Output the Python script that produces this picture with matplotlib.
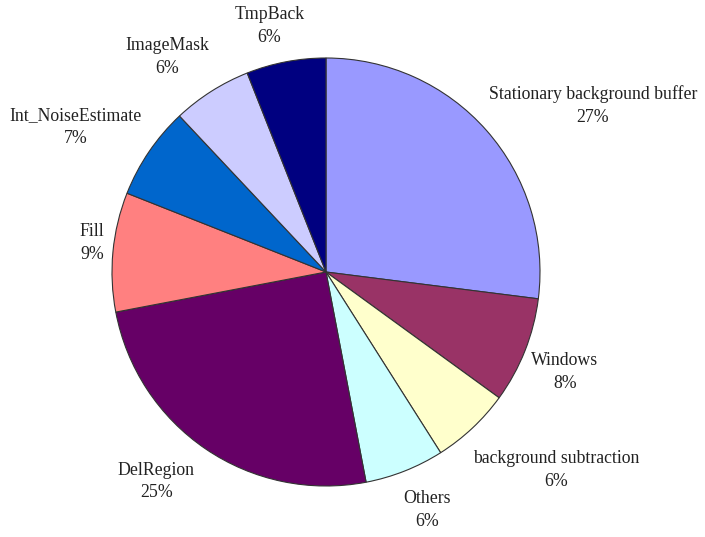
import matplotlib.pyplot as plt
import numpy as np

# share of processing time per stage, clockwise from 12 o'clock
stages = [
    "Stationary background buffer",
    "Windows",
    "background subtraction",
    "Others",
    "DelRegion",
    "Fill",
    "Int_NoiseEstimate",
    "ImageMask",
    "TmpBack",
]
percents = [27, 8, 6, 6, 25, 9, 7, 6, 6]
colors = ["#9999FF", "#993366", "#FFFFCC", "#CCFFFF", "#660066",
          "#FF8080", "#0066CC", "#CCCCFF", "#000080"]

# label placement (angle in degrees, distance in radii) for each slice
label_pos = [(32, 1.47), (-22.8, 1.21), (-40.7, 1.42), (-67, 1.21),
             (-129, 1.26), (173, 1.10), (150, 1.35), (126.5, 1.25), (103, 1.18)]

plt.rcParams["font.family"] = ["Liberation Serif", "DejaVu Serif"]

fig = plt.figure(figsize=(7.05, 5.37), dpi=100)
ax = fig.add_axes([0, 0, 1, 1])

wedges, _ = ax.pie(
    percents,
    colors=colors,
    startangle=90,
    counterclock=False,
    radius=1,
    wedgeprops={"edgecolor": "#333333", "linewidth": 0.8},
)

for name, pct, (ang, dist) in zip(stages, percents, label_pos):
    a = np.deg2rad(ang)
    ax.text(dist * np.cos(a), dist * np.sin(a), f"{name}\n{pct}%",
            ha="center", va="center", fontsize=12.8, color="#222222",
            linespacing=1.45)

ax.set_xlim(-326 / 214, (705 - 326) / 214)
ax.set_ylim(-(537 - 272) / 214, 272 / 214)
ax.set_aspect("auto")
ax.axis("off")

fig.savefig("out.png", dpi=100)
